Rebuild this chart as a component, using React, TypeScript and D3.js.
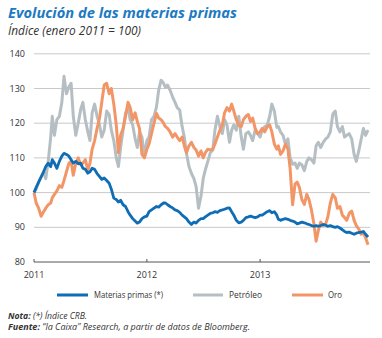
import React from "react";
import * as d3 from "d3";

// Weekly readings (1st, 8th, 16th, 24th of each month), Jan 2011 – mid Dec 2013
const materias: number[] = [
  100,101.5,103,104.5,106,107.5,108.5,107.5,109.5,108.5,
  107,109,110.5,111.3,111,110.5,109.5,108.5,109,108.3,
  108.5,107,106.7,105.6,106,107,106.7,105.5,104.6,103.8,
  104.2,103.5,102.7,101,98.4,98,97.3,97.8,96.5,96,
  94.5,93.5,92.5,91.8,91.2,91.5,92.5,93,93.2,94.5,
  95,95.5,96,95.8,96.5,97,97,96.5,96,95.6,
  95,94.8,94.3,93.5,93,92.5,91.5,90.8,91.5,91.2,
  92,92.5,92.5,93,93.5,94,94.2,94.5,94.3,94.8,
  95,95.2,95.5,95.6,94.5,93.5,92,91.3,91.5,92,
  92.8,93,93.2,93,92.8,93,93.5,93.5,94,94.5,
  94.8,94.2,94.5,93.5,92.3,92,92.3,92.5,92.3,92,
  91.8,91.5,91,91.2,91.5,91.3,91,90.8,90.5,90.3,
  90.5,90.3,90.5,90.8,90.6,90.3,90.5,90.2,90,90.2,
  89.8,89.3,88.8,88.5,88.6,88.3,88,88.3,88.5,88.6,
  88.8,88,87.2,
];
const petroleo: number[] = [
  100,101,103,104.5,106,104,109,116,122,116.5,
  121,122,126,133.5,128.5,130.5,131.5,122,116.5,120,
  124,126,121,117.5,115,123,125.5,122,119.5,116,
  118,123.5,122.5,118,115,110,107.5,113,118,123,
  124.5,121,119.5,115.5,113,117.5,116,110.5,115,116,
  121,122,124.7,129.5,132.4,131.5,130.3,131,129.5,127.6,
  126,124.5,123.8,119,116,111.3,107.5,105.5,104,101.8,
  95.5,99,104,106.6,109,111.5,112.3,118,122,119,
  117,121,119.5,114.5,118,119.5,118,122,116,112.5,
  117,117.5,116.5,115,118,117,116,118,119,119.5,
  122,125.5,123.5,118.8,119,117.5,116.5,114,115.5,110,
  108.2,108.5,107,108.5,108,106.3,109,110,109.5,108.5,
  113.5,114.5,113,114.5,115.5,116,117.5,122.6,123.5,119,
  117.5,119,116,116.5,117,115.5,111,109,112,115.5,
  118.5,116.5,118,
];
const oro: number[] = [
  100,97,95.5,93.2,94.5,95.5,96.5,97,98.5,99.5,
  100.5,102,101.5,103.5,106,108.5,109,105,108.5,110,
  108,108.5,109.5,106.5,108.5,112.5,115,118.5,121.5,126,
  131,131.5,128.5,130,125.5,119.5,111.5,116.5,118.5,122,
  126,124.5,121,123,120.5,118.5,111,110,112.5,114,
  117,120,122.8,121.5,121,120,119,118.5,117.5,116,
  117,116,115,116,113.5,111.5,113.5,114.5,113,112.3,
  110.5,112,110,111.5,112.5,112.3,112.5,114,116,118,
  119.5,123,124.5,123.5,125.5,123.5,121,119.5,119,121,
  122,122.5,120.5,121.5,118.5,117,117.5,118.5,117.5,119,
  119.5,117.5,114,112.5,113.5,111,112,114,112.5,107,
  96.5,102.5,103,101.5,98,96.6,99.5,98,95,91,
  86,89,91.5,90.5,91,93,97,99.5,98.5,95.5,
  96,93.5,92.8,92,94,94.7,92,90.5,89.5,88,
  88.5,87,85,
];
const weekDays: number[] = [1, 8, 16, 24];
const dates: Date[] = materias.map((_, k) => new Date(2011, Math.floor(k / 4), weekDays[k % 4]));
const yTicks: number[] = [80, 90, 100, 110, 120, 130, 140];
const yearTicks: number[] = [2011, 2012, 2013];
const seriesNames: string[] = ["Materias primas (*)", "Petróleo", "Oro"];

const BLUE = "#0f6db5";
const GREY = "#b5bfc3";
const ORANGE = "#f39667";

export default function App() {
  const x = d3.scaleTime().domain([new Date(2011, 0, 1), new Date(2014, 0, 1)]).range([34, 373]);
  const y = d3.scaleLinear().domain([80, 140]).range([262, 53.8]);
  const line = d3.line<number>().x((_, i) => x(dates[i])).y((v) => y(v));
  const font = "'Open Sans', 'Liberation Sans', sans-serif";
  const series = [
    { name: seriesNames[1], data: petroleo, color: GREY, w: 3 },
    { name: seriesNames[2], data: oro, color: ORANGE, w: 3 },
    { name: seriesNames[0], data: materias, color: BLUE, w: 2.8 },
  ];
  const legend = [
    { name: seriesNames[0], color: BLUE, x1: 57, x2: 88, tx: 94, tl: 69 },
    { name: seriesNames[1], color: GREY, x1: 193, x2: 223, tx: 229, tl: 33 },
    { name: seriesNames[2], color: ORANGE, x1: 292, x2: 323, tx: 328, tl: 14 },
  ];
  return (
    <svg width={382} height={338} style={{ position: "absolute", left: 0, top: 0, background: "#fff" }} fontFamily={font}>
      <text x={8} y={18} fontSize={14.5} fontWeight="bold" fontStyle="italic" fill="#1d7ac2" textLength={229} lengthAdjust="spacingAndGlyphs">Evolución de las materias primas</text>
      <text x={8} y={35} fontSize={12} fontStyle="italic" fill="#333" textLength={133} lengthAdjust="spacingAndGlyphs">Índice (enero 2011 = 100)</text>
      {yTicks.map((t) => (
        <g key={t}>
          {t > 80 && <line x1={34} x2={370} y1={y(t)} y2={y(t)} stroke="#c9c9c9" strokeWidth={1} />}
          <text x={25} y={y(t)} dy="0.35em" textAnchor="end" fontSize={9} fill="#333">{t}</text>
        </g>
      ))}
      <line x1={34} x2={370} y1={y(80)} y2={y(80)} stroke="#555" strokeWidth={1} />
      {yearTicks.map((yr) => (
        <g key={yr}>
          <line x1={x(new Date(yr, 0, 1))} x2={x(new Date(yr, 0, 1))} y1={y(80) - 3} y2={y(80)} stroke="#555" strokeWidth={1} />
          <text x={x(new Date(yr, 0, 1))} y={278} textAnchor="middle" fontSize={9} fill="#333">{yr}</text>
        </g>
      ))}
      {series.map((s) => (
        <path key={s.name} d={line(s.data) || ""} fill="none" stroke={s.color} strokeWidth={s.w} strokeLinejoin="round" />
      ))}
      {legend.map((l) => (
        <g key={l.name}>
          <line x1={l.x1} x2={l.x2} y1={295} y2={295} stroke={l.color} strokeWidth={3} />
          <text x={l.tx} y={295} dy="0.35em" fontSize={8.5} fill="#333" textLength={l.tl} lengthAdjust="spacingAndGlyphs">{l.name}</text>
        </g>
      ))}
      <text x={8} y={319} fontSize={8.5} fontStyle="italic" fill="#333" textLength={79} lengthAdjust="spacingAndGlyphs">
        <tspan fontWeight="bold">Nota:</tspan> (*) Índice CRB.
      </text>
      <text x={8} y={330} fontSize={8.5} fontStyle="italic" fill="#333" textLength={242} lengthAdjust="spacingAndGlyphs">
        <tspan fontWeight="bold">Fuente:</tspan> “la Caixa” Research, a partir de datos de Bloomberg.
      </text>
    </svg>
  );
}
